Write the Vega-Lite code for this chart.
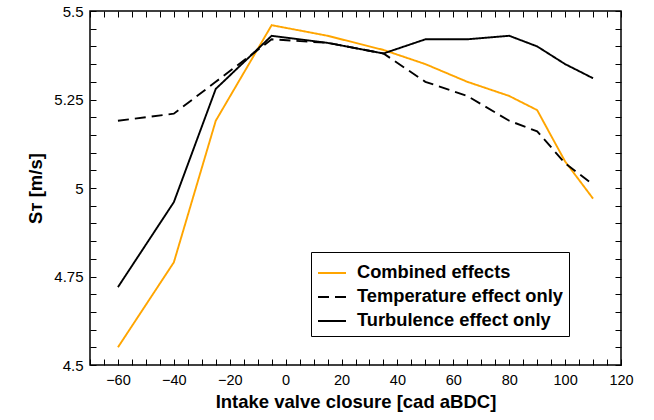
{
  "$schema": "https://vega.github.io/schema/vega-lite/v6.json",
  "width": 531,
  "height": 354,
  "autosize": "none",
  "padding": {"left": 90, "top": 11, "right": 33, "bottom": 55},
  "config": {
    "font": "Liberation Sans",
    "view": {"stroke": "black", "strokeWidth": 1.5},
    "axis": {"domain": false, "grid": false, "tickColor": "black", "tickWidth": 1, "labelColor": "black", "titleColor": "black"}
  },
  "data": {"values": [
    {"x": -60, "y": 4.55, "s": "Combined effects"},
    {"x": -40, "y": 4.79, "s": "Combined effects"},
    {"x": -25, "y": 5.19, "s": "Combined effects"},
    {"x": -5, "y": 5.46, "s": "Combined effects"},
    {"x": 15, "y": 5.43, "s": "Combined effects"},
    {"x": 35, "y": 5.39, "s": "Combined effects"},
    {"x": 50, "y": 5.35, "s": "Combined effects"},
    {"x": 65, "y": 5.30, "s": "Combined effects"},
    {"x": 80, "y": 5.26, "s": "Combined effects"},
    {"x": 90, "y": 5.22, "s": "Combined effects"},
    {"x": 100, "y": 5.075, "s": "Combined effects"},
    {"x": 110, "y": 4.97, "s": "Combined effects"},
    {"x": -60, "y": 5.19, "s": "Temperature effect only"},
    {"x": -40, "y": 5.21, "s": "Temperature effect only"},
    {"x": -25, "y": 5.30, "s": "Temperature effect only"},
    {"x": -5, "y": 5.42, "s": "Temperature effect only"},
    {"x": 15, "y": 5.41, "s": "Temperature effect only"},
    {"x": 35, "y": 5.38, "s": "Temperature effect only"},
    {"x": 50, "y": 5.30, "s": "Temperature effect only"},
    {"x": 65, "y": 5.26, "s": "Temperature effect only"},
    {"x": 80, "y": 5.19, "s": "Temperature effect only"},
    {"x": 90, "y": 5.16, "s": "Temperature effect only"},
    {"x": 100, "y": 5.07, "s": "Temperature effect only"},
    {"x": 110, "y": 5.01, "s": "Temperature effect only"},
    {"x": -60, "y": 4.72, "s": "Turbulence effect only"},
    {"x": -40, "y": 4.96, "s": "Turbulence effect only"},
    {"x": -25, "y": 5.28, "s": "Turbulence effect only"},
    {"x": -5, "y": 5.43, "s": "Turbulence effect only"},
    {"x": 15, "y": 5.41, "s": "Turbulence effect only"},
    {"x": 35, "y": 5.38, "s": "Turbulence effect only"},
    {"x": 50, "y": 5.42, "s": "Turbulence effect only"},
    {"x": 65, "y": 5.42, "s": "Turbulence effect only"},
    {"x": 80, "y": 5.43, "s": "Turbulence effect only"},
    {"x": 90, "y": 5.40, "s": "Turbulence effect only"},
    {"x": 100, "y": 5.35, "s": "Turbulence effect only"},
    {"x": 110, "y": 5.31, "s": "Turbulence effect only"}
  ]},
  "layer": [
    {
      "mark": {"type": "line", "strokeWidth": 1.9},
      "encoding": {
        "x": {"field": "x", "type": "quantitative",
          "scale": {"domain": [-70, 120], "nice": false, "zero": false},
          "axis": {"orient": "bottom", "zindex": 2, "offset": -6, "tickSize": 6, "title": "Intake valve closure [cad aBDC]", "titleFontSize": 18.5, "titleFontWeight": "bold", "titlePadding": 6,
            "values": [-70,-65,-60,-55,-50,-45,-40,-35,-30,-25,-20,-15,-10,-5,0,5,10,15,20,25,30,35,40,45,50,55,60,65,70,75,80,85,90,95,100,105,110,115,120],
            "labelExpr": "(datum.value + 60) % 20 == 0 ? datum.label : ''",
            "labelFontSize": 14.5, "labelPadding": 8, "labelFlush": false}},
        "y": {"field": "y", "type": "quantitative",
          "scale": {"domain": [4.5, 5.5], "nice": false, "zero": false},
          "axis": {"orient": "left", "zindex": 2, "offset": -6, "tickSize": 6, "title": "Sᴛ [m/s]", "titleFontSize": 18.5, "titleFontWeight": "bold", "titlePadding": 8,
            "values": [4.5,4.55,4.6,4.65,4.7,4.75,4.8,4.85,4.9,4.95,5,5.05,5.1,5.15,5.2,5.25,5.3,5.35,5.4,5.45,5.5],
            "labelExpr": "abs(datum.value*4 - round(datum.value*4)) < 0.001 ? format(datum.value, '~g') : ''",
            "labelFontSize": 15, "labelPadding": 7}},
        "color": {"field": "s", "type": "nominal",
          "scale": {"domain": ["Combined effects", "Temperature effect only", "Turbulence effect only"], "range": ["#FFA500", "#000000", "#000000"]},
          "legend": {"orient": "none", "legendX": 221, "legendY": 241, "title": null, "strokeColor": "black", "fillColor": "white",
            "padding": 6, "labelFontSize": 18.3, "labelFontWeight": "bold", "labelColor": "black", "labelLimit": 400, "symbolType": "stroke", "symbolSize": 784, "symbolStrokeWidth": 2, "rowPadding": -3.5, "labelOffset": 10}},
        "strokeDash": {"field": "s", "type": "nominal",
          "scale": {"domain": ["Combined effects", "Temperature effect only", "Turbulence effect only"], "range": [[1, 0], [11, 6], [1, 0]]},
          "legend": {"orient": "none", "legendX": 221, "legendY": 241, "title": null, "strokeColor": "black", "fillColor": "white",
            "padding": 6, "labelFontSize": 18.3, "labelFontWeight": "bold", "labelColor": "black", "labelLimit": 400, "symbolType": "stroke", "symbolSize": 784, "symbolStrokeWidth": 2, "rowPadding": -3.5, "labelOffset": 10}}
      }
    },
    {
      "mark": {"type": "line", "opacity": 0},
      "encoding": {
        "x": {"field": "x", "type": "quantitative",
          "axis": {"orient": "top", "zindex": 2, "offset": -6, "tickSize": 6, "title": null, "labels": false,
            "values": [-70,-65,-60,-55,-50,-45,-40,-35,-30,-25,-20,-15,-10,-5,0,5,10,15,20,25,30,35,40,45,50,55,60,65,70,75,80,85,90,95,100,105,110,115,120]}},
        "y": {"field": "y", "type": "quantitative",
          "axis": {"orient": "right", "zindex": 2, "offset": -6, "tickSize": 6, "title": null, "labels": false,
            "values": [4.5,4.55,4.6,4.65,4.7,4.75,4.8,4.85,4.9,4.95,5,5.05,5.1,5.15,5.2,5.25,5.3,5.35,5.4,5.45,5.5]}}
      }
    }
  ],
  "resolve": {"axis": {"x": "independent", "y": "independent"}}
}
